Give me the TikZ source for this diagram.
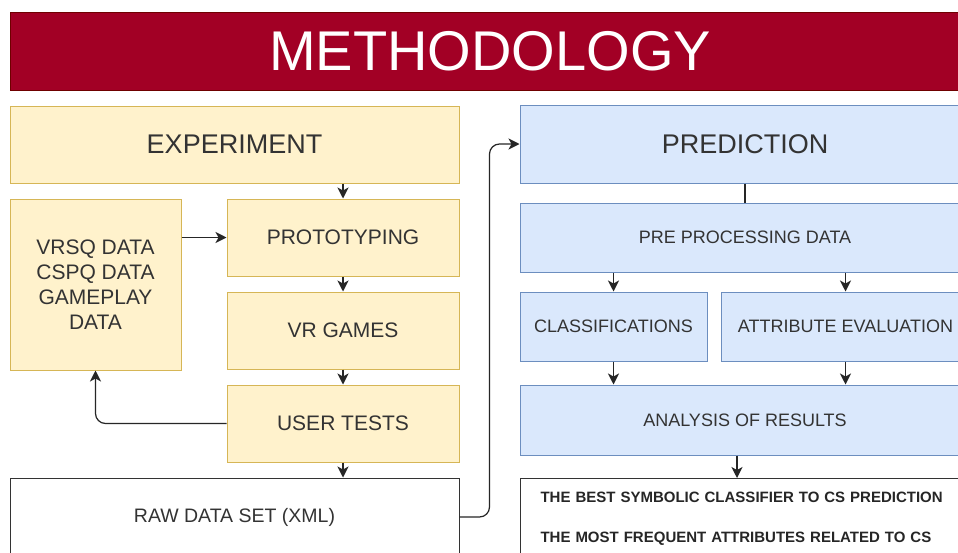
\documentclass[tikz,border=0pt]{standalone}
\usepackage{fontspec}
\setmainfont{Liberation Sans}
\usetikzlibrary{arrows.meta}
\definecolor{titlered}{HTML}{A20025}
\definecolor{titleedge}{HTML}{6F0000}
\definecolor{lightyellow}{HTML}{FFF2CC}
\definecolor{darkyellow}{HTML}{D6B656}
\definecolor{lightblue}{HTML}{DAE8FC}
\definecolor{darkblue}{HTML}{6C8EBF}
\definecolor{ink}{HTML}{333333}

\begin{document}
\begin{tikzpicture}[x=1pt, y=-1pt, line width=1pt,
  box/.style={rectangle, inner sep=0pt, text=ink, align=center},
  yellowbox/.style={box, draw=darkyellow, fill=lightyellow},
  bluebox/.style={box, draw=darkblue, fill=lightblue},
  whitebox/.style={box, draw=black!80, fill=white},
  arrow/.style={-{Stealth[length=11pt, width=11pt, inset=3pt]}, black!85, line width=1.2pt}]

  \clip (0, 0) rectangle (958, 552);
  \fill[white] (0, 0) rectangle (958, 552);

  \node[box, draw=titleedge, fill=titlered, text=white, minimum width=960, minimum height=78,
    font=\fontsize{56}{60}\selectfont] (title) at (490, 51) {METHODOLOGY};

  % experiment side
  \node[yellowbox, minimum width=449, minimum height=77, font=\fontsize{27}{32}\selectfont]
    (exp) at (234.5, 144.5) {EXPERIMENT};
  \node[yellowbox, minimum width=171, minimum height=171, font=\fontsize{21}{25}\selectfont]
    (data) at (95.5, 284.5) {VRSQ DATA\\CSPQ DATA\\GAMEPLAY\\DATA};
  \node[yellowbox, minimum width=232, minimum height=77, font=\fontsize{21}{25}\selectfont]
    (proto) at (343, 237.5) {PROTOTYPING};
  \node[yellowbox, minimum width=232, minimum height=77, font=\fontsize{21}{25}\selectfont]
    (games) at (343, 330.5) {VR GAMES};
  \node[yellowbox, minimum width=232, minimum height=77, font=\fontsize{21}{25}\selectfont]
    (tests) at (343, 423.5) {USER TESTS};
  \node[whitebox, minimum width=449, minimum height=78, font=\fontsize{19.5}{23}\selectfont]
    (raw) at (234.5, 517) {RAW DATA SET (XML)};

  % prediction side
  \node[bluebox, minimum width=450, minimum height=78, font=\fontsize{27}{32}\selectfont]
    (pred) at (745, 144) {PREDICTION};
  \node[bluebox, minimum width=450, minimum height=69, font=\fontsize{18}{22}\selectfont]
    (prep) at (745, 237.5) {PRE PROCESSING DATA};
  \node[bluebox, minimum width=187, minimum height=69, font=\fontsize{18}{22}\selectfont]
    (class) at (613.5, 326.5) {CLASSIFICATIONS};
  \node[bluebox, minimum width=249, minimum height=69, font=\fontsize{18}{22}\selectfont]
    (attr) at (845.5, 326.5) {ATTRIBUTE EVALUATION};
  \node[bluebox, minimum width=450, minimum height=70, font=\fontsize{18}{22}\selectfont]
    (results) at (745, 420) {ANALYSIS OF RESULTS};
  \node[whitebox, anchor=north west, align=left, text width=430, inner xsep=20, inner ysep=14,
    text=black!85, font=\bfseries\fontsize{15}{18}\selectfont] (findings) at (520, 478)
    {THE BEST SYMBOLIC CLASSIFIER TO CS PREDICTION\\[22pt]THE MOST FREQUENT ATTRIBUTES RELATED TO CS};

  \draw[arrow] (exp.south -| proto.north) -- (proto.north);
  \draw[arrow] (data.east |- proto.west) -- (proto.west);
  \draw[arrow] (proto) -- (games);
  \draw[arrow] (games) -- (tests);
  \draw[arrow, rounded corners=10pt] (tests.west) -| (data.south);
  \draw[arrow] (tests.south) -- (tests.south |- raw.north);
  \draw[arrow, rounded corners=10pt] (raw.east) -| ([xshift=-30pt]pred.west) -- (pred.west);

  \draw[black!85, line width=1.2pt] (pred) -- (prep);
  \draw[arrow] (prep.south -| class.north) -- (class.north);
  \draw[arrow] (prep.south -| attr.north) -- (attr.north);
  \draw[arrow] (class.south) -- (class.south |- results.north);
  \draw[arrow] (attr.south) -- (attr.south |- results.north);
  \draw[arrow] ([xshift=-8pt]results.south) -- ([xshift=-8pt]results.south |- findings.north);

\end{tikzpicture}
\end{document}
